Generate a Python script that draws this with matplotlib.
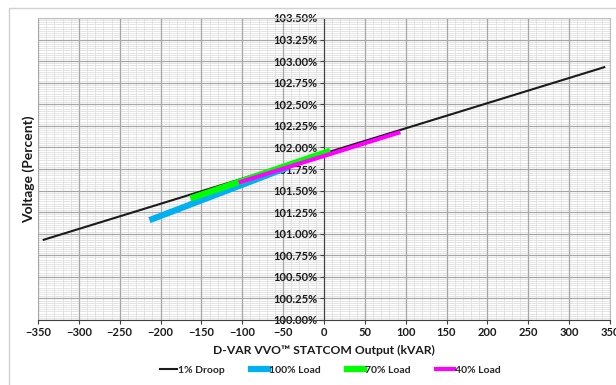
import numpy as np
import matplotlib
matplotlib.use('Agg')
import matplotlib.pyplot as plt
from matplotlib.ticker import MultipleLocator, FormatStrFormatter
from matplotlib.patches import Rectangle

plt.rcParams['font.family'] = ['Lato', 'DejaVu Sans']

# series: kVAR output vs voltage (%)
droop_q = [-343, 343]
droop_v = [100.93, 102.93]
load100_q = [-210, -47]
load100_v = [101.17, 101.76]
load70_q = [-160, 4]
load70_v = [101.42, 101.95]
load40_q = [-102, 91]
load40_v = [101.60, 102.17]

series_names = ['1% Droop', '100% Load', '70% Load', '40% Load']
colors = ['#1a1a1a', '#00b0f0', '#00ff00', '#ff00ff']
widths = [1.5, 4.5, 4.5, 3.0]

fig = plt.figure(figsize=(6.16, 3.85), dpi=100, facecolor='white')
# outer chart frame
fig.patches.append(Rectangle((9/616, -0.1), 1.0, 1 - 8/385 + 0.1, transform=fig.transFigure,
                             fill=False, edgecolor='#d0d0d0', lw=1.0))

ax = fig.add_axes([38/616, 65/385, 572/616, 302/385])

ax.plot(droop_q, droop_v, color=colors[0], lw=widths[0], label=series_names[0], zorder=3)
ax.plot(load100_q, load100_v, color=colors[1], lw=widths[1], label=series_names[1], zorder=4)
ax.plot(load70_q, load70_v, color=colors[2], lw=widths[2], label=series_names[2], zorder=5)
ax.plot(load40_q, load40_v, color=colors[3], lw=widths[3], label=series_names[3], zorder=6)

ax.set_xlim(-350, 350)
ax.set_ylim(100.0, 103.5)

ax.xaxis.set_major_locator(MultipleLocator(50))
ax.xaxis.set_minor_locator(MultipleLocator(10))
ax.yaxis.set_major_locator(MultipleLocator(0.25))
ax.yaxis.set_minor_locator(MultipleLocator(0.025))
ax.yaxis.set_major_formatter(FormatStrFormatter('%.2f%%'))

# minor grid drawn by hand so it stays under the y tick labels
ax.hlines(ax.yaxis.get_minorticklocs(), -350, 350, color='#e0e0e0', lw=0.6, zorder=0.1)
ax.vlines(ax.xaxis.get_minorticklocs(), 100.0, 103.5, color='#e0e0e0', lw=0.6, zorder=0.1)
ax.grid(which='major', color='#a6a6a6', lw=0.9)
ax.set_axisbelow(True)
ax.yaxis.set_zorder(1.5)  # y labels drawn over the vertical grid

ax.spines['left'].set_position(('data', 0))
ax.spines['left'].set_color('#404040')
ax.spines['bottom'].set_color('#404040')
ax.spines['left'].set_zorder(2)
for s in ['top', 'right']:
    ax.spines[s].set_color('#bfbfbf')

ax.tick_params(which='major', length=3, color='#404040', labelsize=8, pad=2)
ax.tick_params(which='minor', length=0)
for lab in ax.get_xticklabels() + ax.get_yticklabels():
    lab.set_fontweight('bold')
    lab.set_color('#1a1a1a')

ax.set_xlabel('D-VAR VVO\u2122 STATCOM Output (kVAR)', fontsize=8.7, fontweight='bold',
              color='#1a1a1a', labelpad=5)
fig.text(29/616, 1 - 169/385, 'Voltage (Percent)', rotation=90, fontsize=10,
         fontweight='bold', color='#1a1a1a', ha='center', va='center')

leg = ax.legend(loc='center', bbox_to_anchor=(330/572 - 38/572, (15 - 65) / 302), ncol=4,
                frameon=False, fontsize=7.5, handlelength=1.7, handletextpad=0.05,
                columnspacing=2.5)
for t in leg.get_texts():
    t.set_fontweight('bold')
    t.set_color('#262626')

fig.savefig('out.png', dpi=100)
